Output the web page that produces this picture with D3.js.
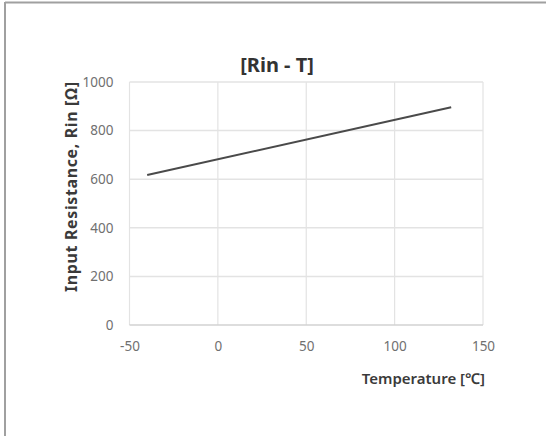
<!DOCTYPE html>
<html>
<head>
<meta charset="utf-8">
<script src="https://cdn.jsdelivr.net/npm/d3@7"></script>
<style>
  html, body { margin: 0; padding: 0; background: #fff; }
  svg { display: block; }
</style>
</head>
<body>
<svg id="chart" width="546" height="436"></svg>
<script>
// Input resistance vs. temperature
const temperature = [-40, 132];
const resistance = [617, 896];
const xTicks = [-50, 0, 50, 100, 150];
const yTicks = [0, 200, 400, 600, 800, 1000];

const title = "[Rin - T]";
const xTitle = "Temperature [℃]";
const yTitle = "Input Resistance, Rin [Ω]";

const W = 546, H = 436;
const plot = { left: 129.5, right: 483, top: 82, bottom: 325 };
const font = "'Noto Sans', 'Open Sans', sans-serif";

const svg = d3.select("#chart");

// outer frame (top and left edges)
svg.append("line").attr("x1", 5).attr("x2", W).attr("y1", 2.5).attr("y2", 2.5)
  .attr("stroke", "#a0a0a0").attr("stroke-width", 2);
svg.append("line").attr("x1", 5).attr("x2", 5).attr("y1", 2).attr("y2", H)
  .attr("stroke", "#a0a0a0").attr("stroke-width", 2);

const x = d3.scaleLinear().domain([-50, 150]).range([plot.left, plot.right]);
const y = d3.scaleLinear().domain([0, 1000]).range([plot.bottom, plot.top]);
const fmt = d => String(d);

// gridlines
const grid = svg.append("g");
grid.selectAll("line.v").data(xTicks).join("line")
  .attr("class", "v")
  .attr("x1", d => x(d)).attr("x2", d => x(d))
  .attr("y1", plot.top).attr("y2", plot.bottom)
  .attr("stroke", "#e3e3e3").attr("stroke-width", 1.2);
grid.selectAll("line.h").data(yTicks).join("line")
  .attr("class", "h")
  .attr("x1", plot.left).attr("x2", plot.right)
  .attr("y1", d => y(d)).attr("y2", d => y(d))
  .attr("stroke", d => d === 0 ? "#d2d2d2" : "#e3e3e3").attr("stroke-width", 1.5);

// axes (labels only)
const xAxis = svg.append("g")
  .attr("transform", `translate(0,${plot.bottom})`)
  .call(d3.axisBottom(x).tickValues(xTicks).tickFormat(fmt).tickSize(0).tickPadding(16));
xAxis.select(".domain").remove();
xAxis.selectAll("text").attr("font-family", font).attr("font-size", 13.5).attr("fill", "#707070");

const yAxis = svg.append("g")
  .attr("transform", `translate(${plot.left},0)`)
  .call(d3.axisLeft(y).tickValues(yTicks).tickFormat(fmt).tickSize(0).tickPadding(16));
yAxis.select(".domain").remove();
yAxis.selectAll("text").attr("font-family", font).attr("font-size", 13.5).attr("fill", "#707070");

// data line
const pts = temperature.map((t, i) => [t, resistance[i]]);
svg.append("path")
  .datum(pts)
  .attr("fill", "none")
  .attr("stroke", "#4a4a4a")
  .attr("stroke-width", 2)
  .attr("d", d3.line().x(d => x(d[0])).y(d => y(d[1])));

// titles
svg.append("text").attr("x", 277).attr("y", 72)
  .attr("text-anchor", "middle")
  .attr("font-family", font).attr("font-weight", "bold").attr("font-size", 20)
  .attr("fill", "#333").text(title);

svg.append("text").attr("x", 485).attr("y", 384)
  .attr("text-anchor", "end")
  .attr("font-family", font).attr("font-weight", "600").attr("font-size", 15)
  .attr("fill", "#3a3a3a").text(xTitle);

svg.append("text")
  .attr("transform", "translate(77,187) rotate(-90)")
  .attr("text-anchor", "middle")
  .attr("font-family", font).attr("font-weight", "bold").attr("font-size", 16)
  .attr("textLength", 210).attr("lengthAdjust", "spacing")
  .attr("fill", "#3a3a3a").text(yTitle);
</script>
</body>
</html>
